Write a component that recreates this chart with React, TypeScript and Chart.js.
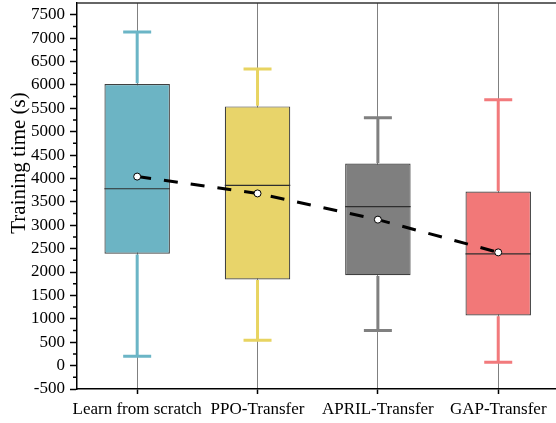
import React, { useEffect, useRef } from 'react';
import { Chart, registerables } from 'chart.js';

Chart.register(...registerables);

const CATEGORIES = ['Learn from scratch', 'PPO-Transfer', 'APRIL-Transfer', 'GAP-Transfer'];
const WHISKER_LOW = [200, 540, 750, 70];
const Q1 = [2390, 1840, 1930, 1070];
const MEDIAN = [3780, 3850, 3400, 2390];
const Q3 = [6020, 5540, 4320, 3720];
const WHISKER_HIGH = [7130, 6340, 5300, 5680];
const MEAN = [4040, 3680, 3120, 2420];
const Y_TICKS = [-500, 0, 500, 1000, 1500, 2000, 2500, 3000, 3500, 4000, 4500, 5000, 5500, 6000, 6500, 7000, 7500];
const Y_MINOR_TICKS = [-250, 250, 750, 1250, 1750, 2250, 2750, 3250, 3750, 4250, 4750, 5250, 5750, 6250, 6750, 7250];
const Y_TITLE = 'Training time (s)';
const COLORS = ['#6cb4c4', '#e8d46a', '#7f7f7f', '#f27878'];
const WHISKER_COLORS = ['#6bb5c6', '#e8d461', '#808080', '#f27a7c'];

const FONT = '"Liberation Serif", "Times New Roman", serif';

const boxPlugin = {
  id: 'boxExtras',
  afterDatasetDraw(chart: any, args: any) {
    if (args.index !== 1) return;
    const { ctx, scales } = chart;
    const x = scales.x;
    const y = scales.y;
    const meta = chart.getDatasetMeta(1);
    ctx.save();
    meta.data.forEach((bar: any, i: number) => {
      const { width } = bar.getProps(['width'], true);
      const cx = x.getPixelForValue(i + 1);
      const half = width / 2;
      const capHalf = 14;
      ctx.strokeStyle = WHISKER_COLORS[i];
      ctx.lineWidth = 3;
      ctx.lineCap = 'butt';
      ctx.beginPath();
      ctx.moveTo(cx, y.getPixelForValue(Q3[i]) - 0.6);
      ctx.lineTo(cx, y.getPixelForValue(WHISKER_HIGH[i]));
      ctx.moveTo(cx, y.getPixelForValue(Q1[i]) + 0.6);
      ctx.lineTo(cx, y.getPixelForValue(WHISKER_LOW[i]));
      ctx.moveTo(cx - capHalf, y.getPixelForValue(WHISKER_HIGH[i]));
      ctx.lineTo(cx + capHalf, y.getPixelForValue(WHISKER_HIGH[i]));
      ctx.moveTo(cx - capHalf, y.getPixelForValue(WHISKER_LOW[i]));
      ctx.lineTo(cx + capHalf, y.getPixelForValue(WHISKER_LOW[i]));
      ctx.stroke();
      ctx.strokeStyle = '#2e2e2e';
      ctx.lineWidth = 1.2;
      ctx.beginPath();
      ctx.moveTo(cx - half, y.getPixelForValue(MEDIAN[i]));
      ctx.lineTo(cx + half, y.getPixelForValue(MEDIAN[i]));
      ctx.stroke();
    });
    ctx.restore();
  },
  afterDraw(chart: any) {
    const { ctx, chartArea, scales } = chart;
    const y = scales.y;
    ctx.save();
    ctx.strokeStyle = '#000';
    ctx.lineWidth = 1.5;
    ctx.beginPath();
    Y_MINOR_TICKS.forEach((v) => {
      const py = y.getPixelForValue(v);
      ctx.moveTo(chartArea.left - 4, py);
      ctx.lineTo(chartArea.left, py);
    });
    ctx.stroke();
    ctx.strokeStyle = '#333';
    ctx.lineWidth = 1.5;
    ctx.beginPath();
    ctx.moveTo(chartArea.left, chartArea.top);
    ctx.lineTo(chartArea.right, chartArea.top);
    ctx.stroke();
    ctx.fillStyle = '#000';
    ctx.font = '21px ' + FONT;
    ctx.textAlign = 'center';
    ctx.textBaseline = 'middle';
    ctx.translate(19, 163);
    ctx.rotate(-Math.PI / 2);
    ctx.fillText(Y_TITLE, 0, 0);
    ctx.restore();
  },
};

export default function App() {
  const ref = useRef<HTMLCanvasElement | null>(null);
  useEffect(() => {
    if (!ref.current) return;
    const chart = new Chart(ref.current, {
      type: 'bar',
      data: {
        datasets: [
          {
            type: 'line',
            data: MEAN.map((v, i) => ({ x: i + 1, y: v })),
            borderColor: '#000',
            borderWidth: 3,
            borderDash: [14, 13],
            pointRadius: 3.5,
            pointBackgroundColor: '#fff',
            pointBorderColor: '#000',
            pointBorderWidth: 1,
            order: 0,
          } as any,
          {
            type: 'bar',
            data: Q1.map((q, i) => ({ x: i + 1, y: [q, Q3[i]] })),
            backgroundColor: COLORS,
            borderColor: '#404040',
            borderWidth: 1.2,
            borderSkipped: false,
            barPercentage: 0.544,
            categoryPercentage: 1,
            order: 1,
          } as any,
        ],
      },
      options: {
        responsive: false,
        animation: false,
        layout: { autoPadding: false, padding: { top: 3, left: 0, right: 0, bottom: 0 } },
        plugins: { legend: { display: false }, tooltip: { enabled: false } },
        scales: {
          x: {
            type: 'linear',
            offset: false,
            min: 0.5,
            max: 4.48,
            afterBuildTicks: (s: any) => {
              s.ticks = CATEGORIES.map((_, i) => ({ value: i + 1 }));
            },
            afterFit: (s: any) => {
              s.height = 34;
              s.paddingLeft = 0;
              s.paddingRight = 0;
            },
            ticks: {
              callback: (v: any) => CATEGORIES[Math.round(v) - 1],
              font: { family: FONT, size: 17 },
              color: '#000',
              padding: 5,
              maxRotation: 0,
              autoSkip: false,
            },
            grid: {
              offset: false,
              color: '#808080',
              lineWidth: 1,
              tickColor: '#000',
              tickWidth: 1.5,
              tickLength: 5,
            },
            border: { color: '#000', width: 1.5 },
          },
          y: {
            type: 'linear',
            min: -500,
            max: 7750,
            afterBuildTicks: (s: any) => {
              s.ticks = Y_TICKS.map((v) => ({ value: v }));
            },
            afterFit: (s: any) => {
              s.width = 77;
              s.paddingTop = 0;
              s.paddingBottom = 0;
            },
            ticks: {
              callback: (v: any) => String(v),
              font: { family: FONT, size: 17 },
              color: '#000',
              padding: 5,
            },
            grid: {
              drawOnChartArea: false,
              tickColor: '#000',
              tickWidth: 1.5,
              tickLength: 7,
            },
            border: { color: '#000', width: 1.5 },
          },
        },
      } as any,
      plugins: [boxPlugin],
    });
    return () => chart.destroy();
  }, []);
  return (
    <div style={{ position: 'fixed', left: 0, top: 0, width: 556, height: 423, background: '#fff' }}>
      <canvas ref={ref} width={556} height={423} style={{ display: 'block' }} />
    </div>
  );
}
